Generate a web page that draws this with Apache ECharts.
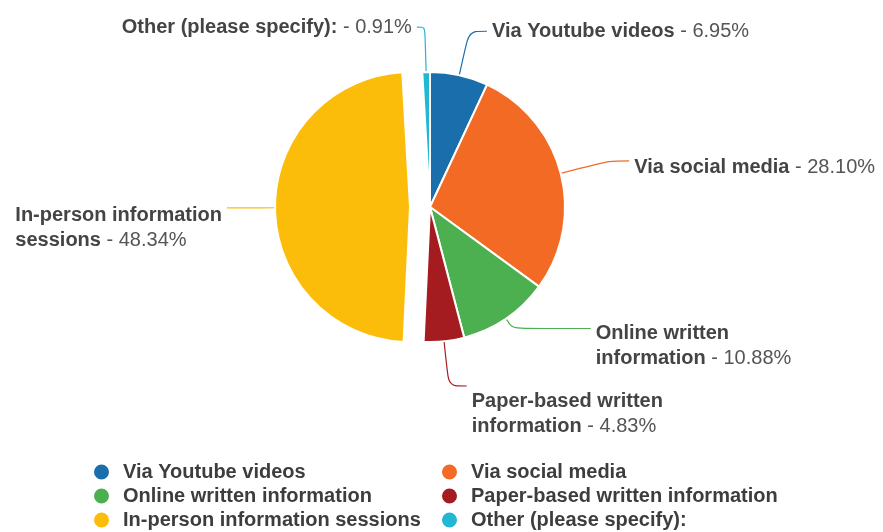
<!DOCTYPE html>
<html>
<head>
<meta charset="utf-8">
<script src="https://cdn.jsdelivr.net/npm/echarts@6/dist/echarts.min.js"></script>
<style>
  html, body { margin: 0; padding: 0; background: #fff; }
  #container { width: 883px; height: 532px; }
</style>
</head>
<body>
<div id="container"></div>
<script>
// data
const categories = [
  'Via Youtube videos',
  'Via social media',
  'Online written information',
  'Paper-based written information',
  'In-person information sessions',
  'Other (please specify):'
];
const values = [6.95, 28.10, 10.88, 4.83, 48.34, 0.91];
// label text, split over lines like the picture
const labelLines = [
  ['Via Youtube videos'],
  ['Via social media'],
  ['Online written', 'information'],
  ['Paper-based written', 'information'],
  ['In-person information', 'sessions'],
  ['Other (please specify):']
];
const colors = ['#1a6eab', '#f26a24', '#4caf50', '#a51c20', '#fcbd0a', '#22b8d4'];

// per slice label line tweaks
const lineLen = [45, 50, 12, 45, 20, 45];
const lineLen2 = [18, 20, 78, 18, 28, 8];
const padTop = [0, 14, 34, 56, 40, 0];

let dom = document.getElementById('container');
let myChart = echarts.init(dom);

let seriesData = categories.map(function (name, i) {
  return {
    name: name,
    value: values[i],
    selected: i === 4,
    itemStyle: { color: colors[i] },
    label: { padding: [padTop[i], 0, 0, 0] },
    labelLine: { length: lineLen[i], length2: lineLen2[i] }
  };
});

let legendStyle = {
  orient: 'vertical',
  top: 462,
  height: 100,
  padding: 0,
  icon: 'circle',
  itemWidth: 17,
  itemHeight: 17,
  itemGap: 4,
  selectedMode: false,
  textStyle: {
    fontFamily: 'Liberation Sans',
    fontSize: 20,
    fontWeight: 'bold',
    color: '#3d3d3d',
    padding: [0, 0, 0, 8]
  }
};

let option = {
  animation: false,
  legend: [
    Object.assign({ left: 92, data: [categories[0], categories[2], categories[4]] }, legendStyle),
    Object.assign({ left: 440, data: [categories[1], categories[3], categories[5]] }, legendStyle)
  ],
  series: [{
    type: 'pie',
    center: [430, 207],
    radius: [0, 135],
    startAngle: 90,
    clockwise: true,
    selectedMode: 'single',
    selectedOffset: 20,
    avoidLabelOverlap: false,
    itemStyle: {
      borderColor: '#fff',
      borderWidth: 2
    },
    label: {
      show: true,
      position: 'outside',
      distanceToLabelLine: 5,
      formatter: function (p) {
        let lines = labelLines[p.dataIndex];
        let out = lines.map(function (l) { return '{n|' + l + '}'; }).join('\n');
        return out + '{v| - ' + p.value.toFixed(2) + '%}';
      },
      rich: {
        n: {
          fontFamily: 'Liberation Sans',
          fontSize: 20,
          fontWeight: 'bold',
          color: '#444',
          lineHeight: 25,
          align: 'left'
        },
        v: {
          fontFamily: 'Liberation Sans',
          fontSize: 20,
          color: '#555',
          lineHeight: 25,
          align: 'left'
        }
      }
    },
    labelLine: {
      show: true,
      smooth: 0.3,
      lineStyle: { width: 1.2 }
    },
    emphasis: { disabled: true },
    data: seriesData
  }]
};

myChart.setOption(option);
</script>
</body>
</html>
